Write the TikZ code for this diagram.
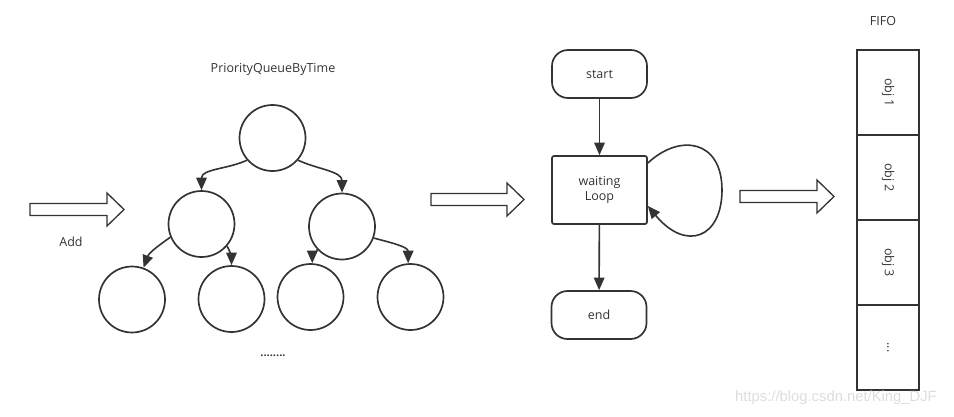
\documentclass[tikz,border=0pt]{standalone}
\usepackage{fontspec}
\setmainfont{Open Sans}
\newfontfamily\wmfont{Liberation Sans}
\usetikzlibrary{arrows.meta,calc}
\definecolor{ink}{HTML}{333333}
\definecolor{wm}{HTML}{DDDDDD}
\newcommand{\myblockarrow}[3]{%
  \draw[blockarrow] (#1,#2-6) -- (#3-17,#2-6) -- (#3-17,#2-16.5) -- (#3,#2)
    -- (#3-17,#2+16.5) -- (#3-17,#2+6) -- (#1,#2+6) -- cycle;}
\tikzset{
  circ/.style={circle, draw=ink, line width=1.7pt, minimum size=66pt, inner sep=0pt},
  edge/.style={draw=ink, line width=1.6pt, -{Triangle[length=12.5pt,width=10.5pt]}},
  blockarrow/.style={draw=ink, line width=1.3pt, fill=white, line join=miter},
  term/.style={draw=ink, line width=1.7pt, rounded corners=16pt, minimum width=95pt, minimum height=48pt, font=\fontsize{12.5}{14}\selectfont, text=ink},
  procbox/.style={draw=ink, line width=1.7pt, rounded corners=2pt, minimum width=95pt, minimum height=68pt, align=center, font=\fontsize{12.5}{15.5}\selectfont, text=ink},
  cell/.style={draw=ink, line width=1.6pt, rotate=-90, minimum width=85pt, minimum height=62pt, inner sep=0pt, font=\fontsize{12.5}{14}\selectfont, text=ink},
  lbl/.style={font=\fontsize{12.5}{14}\selectfont, text=ink}
}
\begin{document}
\begin{tikzpicture}[x=1pt,y=-1pt]
\useasboundingbox (0,0) rectangle (954,416);
% tree
\node[lbl] (title) at (273,69) {PriorityQueueByTime};
\node[circ] (r) at (272.5,138) {};
\node[circ] (l) at (201.5,224) {};
\node[circ] (rr) at (342,226.5) {};
\node[circ] (ll) at (132,299.5) {};
\node[circ] (lr) at (231.5,299) {};
\node[circ] (rl) at (310.5,297) {};
\node[circ] (rrr) at (410.5,297) {};
\node[lbl, font=\bfseries\fontsize{11}{13}\selectfont] (dots) at (273,356) {........};
\draw[edge] (r.221) to[out=-155,in=90] (l.north);
\draw[edge] (r.319) to[out=-25,in=90] (rr.north);
\draw[edge] (l.203) to[out=-145,in=70] (ll.70);
\draw[edge] (l.319) to[out=-60,in=90] (lr.north);
\draw[edge] (rr.223) to[out=-110,in=90] (rl.87);
\draw[edge] (rr.340) to[out=-15,in=90] (rrr.94);
% block arrows
\myblockarrow{30}{209.5}{124}
\node[lbl] (add) at (71,242) {Add};
\myblockarrow{431}{199.5}{524}
\myblockarrow{740}{196.5}{834}
% flowchart
\node[term] (start) at (599.5,74) {start};
\node[procbox] (w) at (599.5,190) {waiting\\Loop};
\node[term] (end) at (599,315) {end};
\draw[edge] (start) -- (w);
\draw[edge] (w) -- (end);
\draw[edge] ([yshift=27pt]w.east) .. controls (680,133) and (722,140) .. (722,190)
  .. controls (722,238) and (686,252) .. ([yshift=-16pt]w.east);
% FIFO
\node[lbl] (fifo) at (883,21) {FIFO};
\node[cell] (c1) at (888,92.5) {obj 1};
\node[cell] (c2) at (888,177.5) {obj 2};
\node[cell] (c3) at (888,262.5) {obj 3};
\node[cell] (c4) at (888,347.5) {...};
% watermark
\node[font=\wmfont\fontsize{14.8}{16}\selectfont, text=wm] (wmk) at (836,398) {https://blog.csdn.net/King\_DJF};
\end{tikzpicture}
\end{document}
